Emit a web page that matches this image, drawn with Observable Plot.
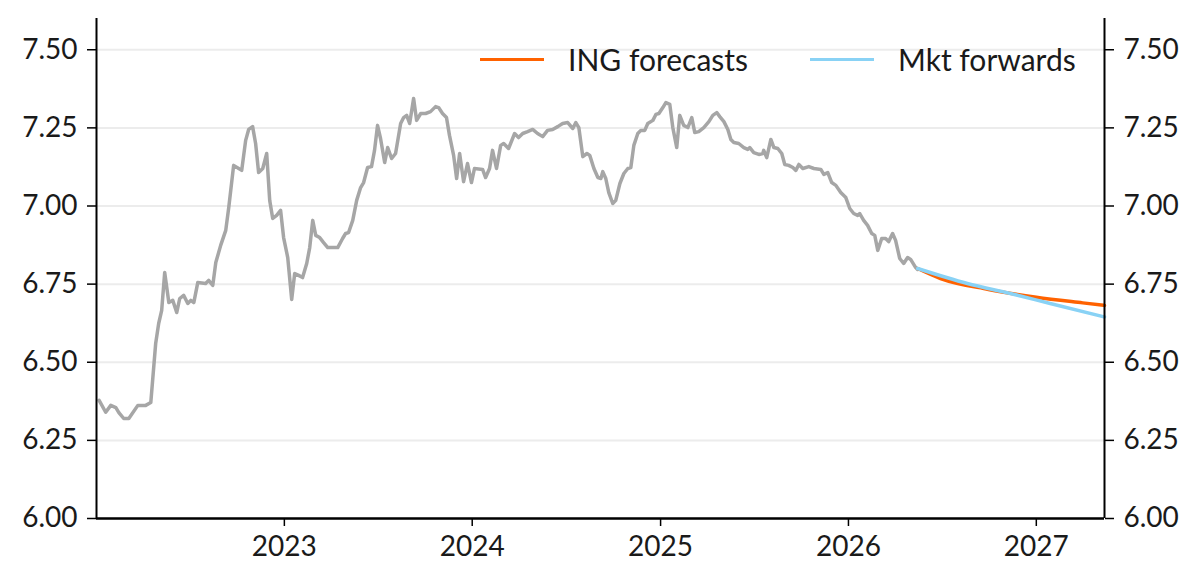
<!DOCTYPE html>
<html>
<head>
<meta charset="utf-8">
<script src="https://cdn.jsdelivr.net/npm/d3@7"></script>
<script src="https://cdn.jsdelivr.net/npm/@observablehq/plot@0.6"></script>
<style>
  html, body { margin: 0; padding: 0; background: #fff; }
  #wrap { position: relative; width: 1200px; height: 587px; font-family: Lato, "Noto Sans", sans-serif; }
  #legend { position: absolute; top: 41px; left: 480px; display: flex; align-items: center; font-size: 30px; color: #1a1a1a; }
  .item { display: flex; align-items: center; }
  .sw { width: 64px; height: 3px; margin-right: 24px; }
  .item + .item { margin-left: 62px; }
</style>
</head>
<body>
<div id="wrap">
  <div id="chart"></div>
  <div id="legend"></div>
</div>
<script>
// Historical spot (decimal year, value)
const histT = [2022.014,2022.049,2022.076,2022.103,2022.119,2022.145,2022.172,2022.220,2022.262,2022.289,2022.315,2022.331,2022.347,2022.363,2022.385,2022.406,2022.427,2022.443,2022.464,2022.486,2022.502,2022.518,2022.539,2022.581,2022.597,2022.619,2022.635,2022.661,2022.688,2022.704,2022.730,2022.757,2022.773,2022.794,2022.810,2022.831,2022.847,2022.863,2022.885,2022.906,2022.922,2022.938,2022.959,2022.980,2022.996,2023.018,2023.039,2023.055,2023.076,2023.097,2023.119,2023.135,2023.151,2023.167,2023.188,2023.209,2023.231,2023.284,2023.310,2023.326,2023.342,2023.364,2023.385,2023.406,2023.422,2023.443,2023.464,2023.480,2023.496,2023.512,2023.534,2023.550,2023.571,2023.592,2023.619,2023.635,2023.651,2023.667,2023.688,2023.704,2023.726,2023.752,2023.778,2023.805,2023.821,2023.842,2023.863,2023.879,2023.901,2023.917,2023.933,2023.954,2023.975,2023.996,2024.012,2024.055,2024.071,2024.092,2024.108,2024.129,2024.151,2024.167,2024.193,2024.225,2024.246,2024.268,2024.294,2024.321,2024.347,2024.374,2024.400,2024.427,2024.454,2024.480,2024.507,2024.534,2024.550,2024.566,2024.587,2024.609,2024.624,2024.646,2024.667,2024.683,2024.693,2024.709,2024.725,2024.746,2024.762,2024.784,2024.805,2024.826,2024.842,2024.858,2024.879,2024.895,2024.916,2024.932,2024.959,2024.975,2024.991,2025.012,2025.028,2025.049,2025.065,2025.086,2025.102,2025.123,2025.145,2025.166,2025.182,2025.203,2025.230,2025.257,2025.278,2025.299,2025.315,2025.337,2025.358,2025.374,2025.390,2025.416,2025.443,2025.464,2025.475,2025.496,2025.523,2025.544,2025.549,2025.565,2025.587,2025.603,2025.624,2025.645,2025.661,2025.682,2025.704,2025.720,2025.736,2025.757,2025.789,2025.816,2025.853,2025.869,2025.890,2025.911,2025.933,2025.959,2025.986,2026.007,2026.028,2026.049,2026.060,2026.081,2026.102,2026.124,2026.140,2026.156,2026.177,2026.198,2026.214,2026.235,2026.251,2026.273,2026.294,2026.315,2026.331,2026.358,2026.368];
const histV = [6.378,6.340,6.362,6.355,6.339,6.320,6.320,6.362,6.362,6.371,
6.560,6.624,6.666,6.787,6.691,6.698,6.659,6.704,6.714,6.688,
6.698,6.691,6.755,6.752,6.762,6.746,6.819,6.874,6.922,6.995,
7.130,7.120,7.114,7.210,7.245,7.254,7.200,7.107,7.120,7.168,
7.018,6.960,6.970,6.986,6.899,6.835,6.701,6.784,6.778,6.771,
6.816,6.867,6.954,6.906,6.899,6.883,6.867,6.867,6.896,6.912,
6.915,6.954,7.018,7.059,7.075,7.123,7.126,7.178,7.258,7.216,
7.139,7.187,7.152,7.168,7.264,7.283,7.290,7.264,7.344,7.274,
7.296,7.296,7.302,7.318,7.315,7.296,7.283,7.226,7.162,7.088,
7.168,7.078,7.136,7.075,7.120,7.117,7.091,7.120,7.178,7.120,
7.194,7.200,7.184,7.232,7.219,7.232,7.238,7.245,7.232,7.222,
7.242,7.245,7.254,7.264,7.267,7.248,7.267,7.251,7.158,7.168,
7.162,7.120,7.091,7.088,7.110,7.088,7.043,7.008,7.018,7.072,
7.104,7.120,7.123,7.194,7.232,7.242,7.242,7.264,7.274,7.293,
7.296,7.315,7.331,7.325,7.251,7.187,7.290,7.258,7.251,7.283,
7.235,7.238,7.251,7.270,7.290,7.299,7.286,7.270,7.245,7.213,
7.203,7.200,7.187,7.181,7.187,7.171,7.165,7.168,7.178,7.155,
7.213,7.187,7.184,7.168,7.133,7.130,7.123,7.114,7.133,7.120,
7.126,7.120,7.117,7.101,7.107,7.075,7.066,7.043,7.027,6.992,
6.976,6.970,6.976,6.954,6.938,6.912,6.906,6.858,6.896,6.896,
6.886,6.912,6.890,6.832,6.816,6.835,6.829,6.803,6.797];

// ING forecasts
const ingT = [2026.368, 2026.490, 2026.745, 2027.000, 2027.247, 2027.363];
const ingV = [6.800, 6.768, 6.733, 6.708, 6.690, 6.682];
// Market forwards
const fwdT = [2026.368, 2026.633, 2026.862, 2027.074, 2027.363];
const fwdV = [6.800, 6.752, 6.720, 6.688, 6.645];

const yTicks = [6.00, 6.25, 6.50, 6.75, 7.00, 7.25, 7.50];
const xTickYears = [2023, 2024, 2025, 2026, 2027];
const xDomainYears = [2022.0, 2027.363];
const yDomain = [6.0, 7.6];

const seriesNames = ["ING forecasts", "Mkt forwards"];
const colors = { hist: "#a6a6a6", ing: "#ff6200", fwd: "#89d2f5" };

function toDate(t) {
  const y = Math.floor(t);
  const s = Date.UTC(y, 0, 1), e = Date.UTC(y + 1, 0, 1);
  return new Date(s + (t - y) * (e - s));
}
const zip = (T, V) => T.map((t, i) => ({ date: toDate(t), value: V[i] }));
const hist = zip(histT, histV);
const ing = zip(ingT, ingV);
const fwd = zip(fwdT, fwdV);
const xDomain = xDomainYears.map(toDate);
const xTicks = xTickYears.map(toDate);

const axisStyle = { fontSize: 28, tickSize: 9, tickPadding: 10, stroke: "#000", strokeWidth: 1.5, label: null };

const chart = Plot.plot({
  width: 1200,
  height: 587,
  marginLeft: 96,
  marginRight: 96,
  marginTop: 18,
  marginBottom: 69,
  style: { fontFamily: "Lato, 'Noto Sans', sans-serif", color: "#1a1a1a", background: "#fff" },
  x: { type: "utc", domain: xDomain, label: null },
  y: { domain: yDomain, label: null },
  marks: [
    Plot.gridY(yTicks, { stroke: "#ececec", strokeOpacity: 1, strokeWidth: 2 }),
    Plot.axisY(yTicks, { anchor: "left", tickFormat: d => d.toFixed(2), ...axisStyle }),
    Plot.axisY(yTicks, { anchor: "right", tickFormat: d => d.toFixed(2), ...axisStyle }),
    Plot.axisX(xTicks, { anchor: "bottom", tickFormat: d => String(d.getUTCFullYear()), fontSize: 28, tickSize: 8, tickPadding: 10, stroke: "#000", strokeWidth: 1.5, label: null }),
    Plot.line(hist, { x: "date", y: "value", stroke: colors.hist, strokeWidth: 3.5 }),
    Plot.line(ing, { x: "date", y: "value", stroke: colors.ing, strokeWidth: 3.5, curve: "monotone-x" }),
    Plot.line(fwd, { x: "date", y: "value", stroke: colors.fwd, strokeWidth: 3.5, curve: "monotone-x" }),
    Plot.ruleX([xDomain[0], xDomain[1]], { stroke: "#000", strokeWidth: 2 }),
    Plot.ruleY([yDomain[0]], { stroke: "#000", strokeWidth: 2.5 })
  ]
});
document.getElementById("chart").appendChild(chart);

const legend = document.getElementById("legend");
[[seriesNames[0], colors.ing], [seriesNames[1], colors.fwd]].forEach(([name, c]) => {
  const it = document.createElement("div");
  it.className = "item";
  const sw = document.createElement("div");
  sw.className = "sw";
  sw.style.background = c;
  const tx = document.createElement("span");
  tx.textContent = name;
  it.appendChild(sw); it.appendChild(tx);
  legend.appendChild(it);
});
</script>
</body>
</html>
